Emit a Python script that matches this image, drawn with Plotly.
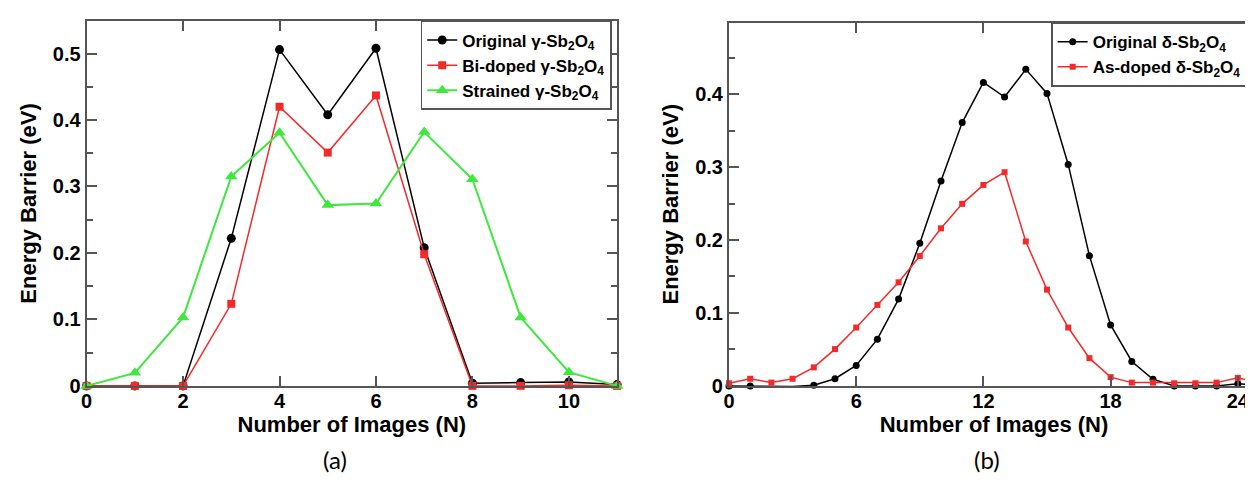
import plotly.graph_objects as go

# ---- Panel (a) data ----
n_a = list(range(0, 12))
orig_gamma = [0.0, 0.0, 0.0, 0.222, 0.506, 0.408, 0.508, 0.208, 0.004, 0.005, 0.006, 0.002]
bi_gamma = [0.0, 0.0, 0.0, 0.1235, 0.420, 0.351, 0.437, 0.198, 0.0, 0.0, 0.001, 0.0]
strained_gamma = [0.0, 0.0196, 0.103, 0.315, 0.381, 0.272, 0.2745, 0.382, 0.311, 0.103, 0.0206, 0.0]

# ---- Panel (b) data ----
n_b = list(range(0, 26))
orig_delta = [0.0, 0.0, -0.001, -0.001, 0.001, 0.0098, 0.028, 0.064, 0.119, 0.1955, 0.281, 0.361, 0.416,
              0.396, 0.434, 0.401, 0.3036, 0.1786, 0.0835, 0.0335, 0.009, 0.0, 0.0, 0.0, 0.003, 0.001]
as_delta = [0.0036, 0.0098, 0.0045, 0.0098, 0.0254, 0.0504, 0.080, 0.111, 0.142, 0.178, 0.216, 0.2496, 0.2755,
            0.293, 0.198, 0.132, 0.080, 0.038, 0.012, 0.0045, 0.0045, 0.0036, 0.0036, 0.0045, 0.011, 0.0045]

xticks_a = [0, 2, 4, 6, 8, 10]
xticks_b = [0, 6, 12, 18, 24]
yticks_a = [0, 0.1, 0.2, 0.3, 0.4, 0.5]
yticklabels_a = ["0", "0.1", "0.2", "0.3", "0.4", "0.5"]
yticks_b = [0, 0.1, 0.2, 0.3, 0.4]
yticklabels_b = ["0", "0.1", "0.2", "0.3", "0.4"]

BLACK = "#000000"
RED = "#f42a2a"
GREEN = "#3ee83e"
FRAME = "#555555"
W, H = 1253, 483

fig = go.Figure()

fig.add_trace(go.Scatter(x=n_a, y=orig_gamma, mode="lines+markers", name="Original γ-Sb<sub>2</sub>O<sub>4</sub>",
                         line=dict(color=BLACK, width=1.5), marker=dict(symbol="circle", size=9, color=BLACK),
                         cliponaxis=False, xaxis="x", yaxis="y", legend="legend"))
fig.add_trace(go.Scatter(x=n_a, y=bi_gamma, mode="lines+markers", name="Bi-doped γ-Sb<sub>2</sub>O<sub>4</sub>",
                         line=dict(color=RED, width=1.5), marker=dict(symbol="square", size=8, color=RED),
                         cliponaxis=False, xaxis="x", yaxis="y", legend="legend"))
fig.add_trace(go.Scatter(x=n_a, y=strained_gamma, mode="lines+markers", name="Strained γ-Sb<sub>2</sub>O<sub>4</sub>",
                         line=dict(color=GREEN, width=2), marker=dict(symbol="triangle-up", size=11, color=GREEN),
                         cliponaxis=False, xaxis="x", yaxis="y", legend="legend"))

fig.add_trace(go.Scatter(x=n_b, y=orig_delta, mode="lines+markers", name="Original δ-Sb<sub>2</sub>O<sub>4</sub>",
                         line=dict(color=BLACK, width=1.5), marker=dict(symbol="circle", size=7, color=BLACK),
                         cliponaxis=False, xaxis="x2", yaxis="y2", legend="legend2"))
fig.add_trace(go.Scatter(x=n_b, y=as_delta, mode="lines+markers", name="As-doped δ-Sb<sub>2</sub>O<sub>4</sub>",
                         line=dict(color=RED, width=1.5), marker=dict(symbol="square", size=6, color=RED),
                         cliponaxis=False, xaxis="x2", yaxis="y2", legend="legend2"))

tickfont = dict(family="Liberation Sans", size=20, color="black", weight="bold")
titlefont = dict(family="Liberation Sans", size=22, color="black", weight="bold")
legfont = dict(family="Liberation Sans", size=17, color="black", weight="bold")

common_x = dict(showline=True, linecolor=FRAME, linewidth=2, mirror="allticks", ticks="inside",
                ticklen=10, tickwidth=2, tickcolor=FRAME, showgrid=False, zeroline=False,
                tickfont=tickfont, title_font=titlefont, title_standoff=2, ticklabelstandoff=-4)
common_y = dict(showline=True, linecolor=FRAME, linewidth=2, mirror="allticks", ticks="inside",
                ticklen=10, tickwidth=2, tickcolor=FRAME, showgrid=False, zeroline=False,
                tickfont=tickfont, title_font=titlefont, title_standoff=10,
                minor=dict(ticks="inside", ticklen=6, tickwidth=2, tickcolor=FRAME, dtick=0.05, showgrid=False))

fig.update_layout(
    width=W, height=H, margin=dict(l=0, r=0, t=0, b=0),
    paper_bgcolor="white", plot_bgcolor="white",
    xaxis=dict(domain=[73 / W, 606.5 / W], range=[0, 11], tickvals=xticks_a, anchor="y",
               title_text="Number of Images (N)", **common_x),
    yaxis=dict(domain=[1 - 386.7 / H, 1 - 13.3 / H], range=[0, 0.549], tickvals=yticks_a,
               ticktext=yticklabels_a, anchor="x", title_text="Energy Barrier (eV)", **common_y),
    xaxis2=dict(domain=[719 / W, 1252 / W], range=[0, 25], tickvals=xticks_b, anchor="y2",
                title_text="Number of Images (N)", **common_x),
    yaxis2=dict(domain=[1 - 386.7 / H, 1 - 15 / H], range=[0, 0.498], tickvals=yticks_b,
                ticktext=yticklabels_b, anchor="x2", title_text="Energy Barrier (eV)", **common_y),
    legend=dict(x=409 / W, y=1 - 13.3 / H, xanchor="left", yanchor="top", bgcolor="white",
                bordercolor=FRAME, borderwidth=1.5, tracegroupgap=0, font=legfont),
    legend2=dict(x=1043 / W, y=1 - 15 / H, xanchor="left", yanchor="top", bgcolor="white",
                 bordercolor=FRAME, borderwidth=1.5, tracegroupgap=0, font=legfont),
    annotations=[
        dict(text="(a)", x=323 / W, y=1 - 462 / H, xref="paper", yref="paper", showarrow=False,
             xanchor="center", yanchor="middle", font=dict(family="Lato", size=24, color="black")),
        dict(text="(b)", x=978 / W, y=1 - 462 / H, xref="paper", yref="paper", showarrow=False,
             xanchor="center", yanchor="middle", font=dict(family="Lato", size=24, color="black")),
    ],
)

fig.write_html("out.html")
